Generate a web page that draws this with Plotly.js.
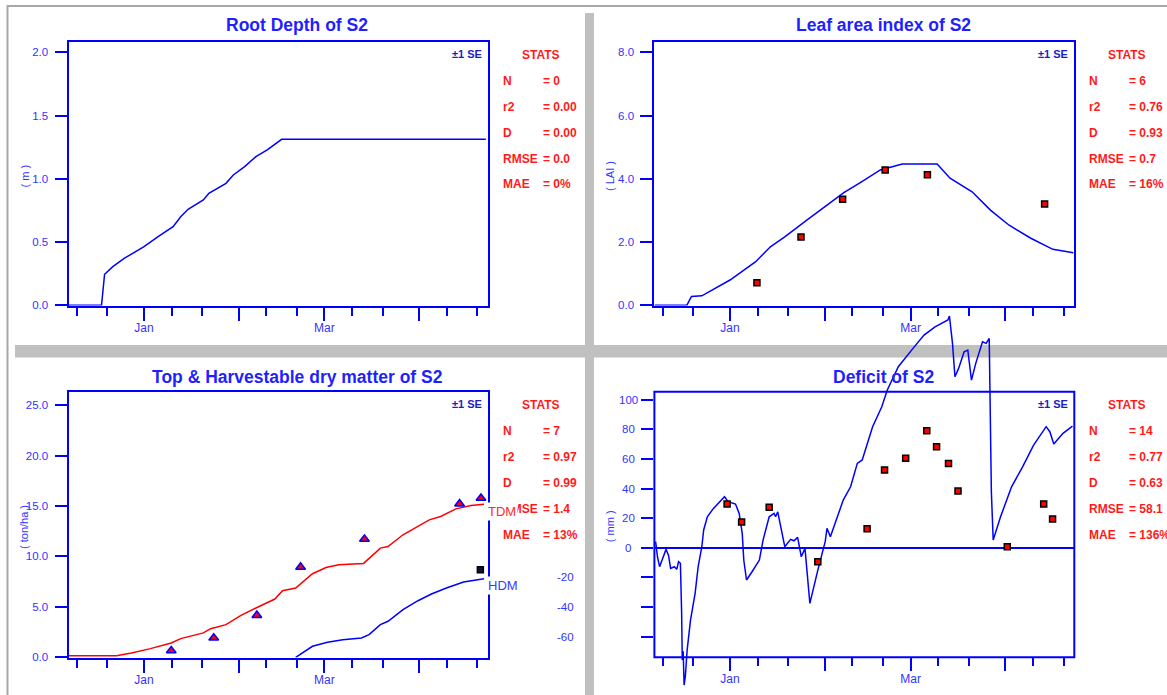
<!DOCTYPE html>
<html><head><meta charset="utf-8">
<script src="https://cdn.plot.ly/plotly-3.0.1.min.js"></script>
<style>html,body{margin:0;padding:0;background:#fff;overflow:hidden}</style>
</head><body><div id="chart" style="width:1167px;height:695px"></div>
<script>
// x values are days counted from 1 January
const monthTickDays = [0, 31, 59, 90];
const monthTickText = ['Jan', '', 'Mar', ''];
const dekadTickDays = [-22, -12, 9, 19, 40, 50, 68, 78, 99, 109];

const rootDay   = [-24.7, -13.9, -12.9, -10.2, -6.5, 0, 4.6, 9.5, 12, 14.4, 19.4, 21.2, 26.8, 29.2, 32.9, 36.6, 40.3, 45, 111.8];
const rootDepth = [0, 0, 0.245, 0.305, 0.37, 0.463, 0.542, 0.621, 0.70, 0.759, 0.832, 0.885, 0.964, 1.03, 1.096, 1.175, 1.228, 1.312, 1.312];

const laiDay = [-24.7, -14.1, -12.6, -9.2, 0, 8.4, 13.2, 18, 25.2, 31.2, 37.2, 43.1, 49.1, 56.3, 67.7, 71.9, 79.1, 85.1, 91.1, 98.3, 105.5, 112.2];
const laiSim = [0, 0, 0.28, 0.30, 0.80, 1.38, 1.85, 2.17, 2.70, 3.12, 3.56, 3.91, 4.28, 4.47, 4.47, 4.02, 3.59, 3.01, 2.54, 2.12, 1.77, 1.66];
const laiObsDay = [8.8, 23.2, 36.8, 50.7, 64.5, 102.8];
const laiObs    = [0.71, 2.16, 3.35, 4.28, 4.13, 3.20];

const tdmDay = [-24.7, -9.0, -4.1, 2.1, 8.9, 12.0, 19.4, 21.8, 26.8, 31.7, 36.6, 42.8, 45.3, 49.6, 55.1, 59.5, 63.7, 71.8, 77.3, 79.8, 84.7, 89.6, 93.3, 97.0, 102.0, 106.9, 111.2];
const tdmSim = [0.15, 0.15, 0.43, 0.86, 1.42, 1.85, 2.42, 2.84, 3.24, 4.16, 4.89, 5.78, 6.60, 6.87, 8.29, 8.91, 9.18, 9.31, 10.83, 10.99, 12.15, 12.97, 13.63, 13.96, 14.72, 15.05, 15.19];
const hdmDay = [49.6, 55.1, 60.0, 65.0, 71.1, 73.6, 77.3, 79.8, 84.7, 89.6, 94.0, 98.9, 104.5, 111.2];
const hdmSim = [0, 1.09, 1.49, 1.75, 1.92, 2.25, 3.24, 3.57, 4.72, 5.61, 6.28, 6.87, 7.46, 7.79];
const tdmObsDay = [8.9, 22.8, 36.9, 51.2, 72.1, 103.2, 110.2];
const tdmObs    = [0.66, 1.92, 4.16, 8.95, 11.72, 15.22, 15.78];
const hdmObsDay = [110.0];
const hdmObs    = [8.68];

const defDay = [-24.3, -23.7, -23.0, -22.1, -20.9, -20.1, -19.4, -18.2, -17.4, -16.8, -16.2, -15.8, -15.6, -15.3, -15.0, -14.6, -14.0, -12.9, -11.4, -10.4, -9.2, -8.6, -7.4, -5.4, -3.0, -1.8, -0.6, 1.8, 3.0, 4.0, 4.5, 5.4, 7.2, 9.6, 10.8, 12.8, 14.4, 14.9, 15.6, 17.9, 19.8, 20.9, 22.1, 23.3, 24.5, 26.1, 28.7, 31.1, 31.7, 32.8, 37.0, 39.4, 41.6, 43.2, 46.6, 49.6, 51.4, 55.0, 59.8, 63.4, 67.0, 71.2, 71.7, 72.7, 73.5, 74.7, 76.5, 77.7, 78.9, 80.3, 82.5, 83.7, 84.7, 85.0, 85.4, 86.0, 88.4, 92.0, 95.6, 99.2, 103.3, 104.5, 105.8, 108.8, 111.9];
const defSim = [4.1, -6.1, -12.8, -8.3, -1.1, -5.0, -13.9, -12.8, -14.6, -9.4, -10.5, -44.3, -75.9, -70, -92.8, -87.1, -69.1, -48.9, -30.8, -12.8, 0.7, 12.0, 20.9, 26.6, 32.2, 34.5, 31.1, 29.5, 23.2, 9.7, -8.3, -21.8, -16.2, -8.3, 5.2, 20.9, 23.2, 20.9, 24.3, 0.7, 5.7, 4.7, 7.0, -6.1, -0.4, -37.6, -15.1, 4.1, 13.1, 7.4, 32.2, 41.2, 57.0, 59.3, 81.8, 95.3, 106.6, 122.3, 134.7, 143.7, 149.3, 153.9, 156.6, 138.1, 115.5, 121.2, 132.4, 133.6, 113.3, 124.6, 139.2, 138.1, 141.4, 106.6, 37.8, 5.2, 20.9, 41.2, 54.7, 69.4, 81.8, 78.4, 70.1, 77.3, 82.2];
const defObsDay = [-0.95, 3.8, 12.8, 28.7, 44.8, 50.5, 57.4, 64.3, 67.5, 71.4, 74.5, 90.6, 102.5, 105.4];
const defObs    = [29.5, 17.4, 27.3, -9.5, 12.8, 52.5, 60.4, 79.1, 68.2, 57.0, 38.3, 0.7, 29.5, 19.4];

const rootTicks = [0, 0.5, 1, 1.5, 2];
const laiTicks  = [0, 2, 4, 6, 8];
const dmTicks   = [0, 5, 10, 15, 20, 25];
const defTicks  = [100, 80, 60, 40, 20, 0, -20, -40, -60];
const defTickText = ['100', '80', '60', '40', '20', '0', '-20', '-40', '-60'];

const titles  = ['Root Depth of S2', 'Leaf area index of S2', 'Top &amp; Harvestable dry matter of S2', 'Deficit of S2'];
const yTitles = ['( m )', '( LAI )', '( ton/ha )', '( mm )'];
const statNames = ['N', 'r2', 'D', 'RMSE', 'MAE'];
const rootStats = ['0', '0.00', '0.00', '0.0', '0%'];
const laiStats  = ['6', '0.76', '0.93', '0.7', '16%'];
const dmStats   = ['7', '0.97', '0.99', '1.4', '13%'];
const defStats  = ['14', '0.77', '0.63', '58.1', '136%'];

const W = 1167, H = 695;
const FONT = 'Arial, "Liberation Sans", sans-serif';
const BLUE = '#0000ff';
const TXTBLUE = '#3333ff';
const px = v => v / W, py = v => 1 - v / H;

function xAx(l, r, extra) {
  return Object.assign({
    domain: [px(l), px(r)], range: [-24.7, 112.5],
    tickmode: 'array', tickvals: monthTickDays, ticktext: monthTickText,
    ticks: 'outside', ticklen: 13, tickwidth: 2, tickcolor: BLUE, ticklabelstandoff: -3,
    minor: {tickmode: 'array', tickvals: dekadTickDays, ticks: 'outside', ticklen: 8, tickwidth: 2, tickcolor: BLUE, showgrid: false},
    showgrid: false, zeroline: false, showline: true, mirror: true, linecolor: BLUE, linewidth: 2,
    tickfont: {family: FONT, size: 12, color: TXTBLUE}, fixedrange: true
  }, extra);
}
function yAx(top, bottom, range, ticks, extra) {
  return Object.assign({
    domain: [py(bottom), py(top)], range: range,
    tickmode: 'array', tickvals: ticks, tickformat: '.1f',
    ticks: 'outside', ticklen: 12, tickwidth: 2, tickcolor: BLUE, ticklabelstandoff: 4,
    showgrid: false, zeroline: false, showline: true, mirror: true, linecolor: BLUE, linewidth: 2,
    tickfont: {family: FONT, size: 11.5, color: TXTBLUE}, fixedrange: true
  }, extra);
}

const lineStyle = c => ({color: c, width: 1.5});
const sq = {symbol: 'square', size: 6, color: 'red', line: {color: 'black', width: 1.5}};
const traces = [
  {x: rootDay, y: rootDepth, xaxis: 'x', yaxis: 'y', mode: 'lines', line: lineStyle(BLUE)},
  {x: laiDay, y: laiSim, xaxis: 'x2', yaxis: 'y2', mode: 'lines', line: lineStyle(BLUE)},
  {x: laiObsDay, y: laiObs, xaxis: 'x2', yaxis: 'y2', mode: 'markers', marker: sq},
  {x: hdmDay, y: hdmSim, xaxis: 'x3', yaxis: 'y3', mode: 'lines', line: lineStyle(BLUE)},
  {x: tdmDay, y: tdmSim, xaxis: 'x3', yaxis: 'y3', mode: 'lines', line: lineStyle('#ff0000')},
  {x: tdmObsDay, y: tdmObs, xaxis: 'x3', yaxis: 'y3', mode: 'markers', marker: {symbol: 'triangle-up', size: 8.5, color: 'red', line: {color: BLUE, width: 1.5}}},
  {x: hdmObsDay, y: hdmObs, xaxis: 'x3', yaxis: 'y3', mode: 'markers', marker: {symbol: 'square', size: 6, color: '#101040', line: {color: 'black', width: 1.5}}},
  {x: defDay, y: defSim, xaxis: 'x4', yaxis: 'y4', mode: 'lines', line: lineStyle(BLUE)},
  {x: defObsDay, y: defObs, xaxis: 'x4', yaxis: 'y4', mode: 'markers', marker: sq}
];

// panel geometry (pixels)
const P = [
  {l: 68.5, r: 488, t: 41.5, b: 305.5, tx: 297, ty: 25, lx: 24.5, ly: 176, stats: rootStats},
  {l: 654.4, r: 1074.3, t: 41.5, b: 305.5, tx: 883, ty: 25, lx: 610, ly: 176, stats: laiStats},
  {l: 68.5, r: 488, t: 391.7, b: 657.5, tx: 297, ty: 377, lx: 23.5, ly: 527.5, stats: dmStats},
  {l: 654.4, r: 1074.3, t: 391.7, b: 657.3, tx: 883, ty: 376.5, lx: 609.5, ly: 526.7, stats: defStats}
];

const ann = [];
function txt(x, y, text, opts) {
  ann.push(Object.assign({xref: 'paper', yref: 'paper', x: px(x), y: py(y), text: text, showarrow: false,
    xanchor: 'center', yanchor: 'middle', font: {family: FONT, size: 12, color: 'red'}}, opts));
}
P.forEach((p, i) => {
  txt(p.tx, p.ty, '<b>' + titles[i] + '</b>', {font: {family: FONT, size: 17.5, color: '#1f1fff'}});
  txt(p.lx, p.ly, yTitles[i], {textangle: -90, font: {family: FONT, size: 11, color: TXTBLUE}});
  txt(p.r - 4, p.t + 12.5, '<b>±1 SE</b>', {xanchor: 'right', font: {family: FONT, size: 11, color: '#1c1cc8'}});
  txt(p.r + 52.7, p.t + 13, '<b>STATS</b>', {font: {family: FONT, size: 12, color: '#ff1a1a'}});
  statNames.forEach((s, k) => {
    const y = p.t + 39 + 26 * k;
    txt(p.r + 12.7, y, '<b>' + s + '</b>', {xanchor: 'left', font: {family: FONT, size: 12, color: '#ff1a1a'}});
    txt(p.r + 52.7, y, '<b>= ' + p.stats[k] + '</b>', {xanchor: 'left', font: {family: FONT, size: 12, color: '#ff1a1a'}});
  });
});
// deficit y tick labels
defTicks.forEach((v, k) => {
  ann.push({xref: 'paper', yref: 'y4', x: px(v >= 0 ? 628 : 565), y: v, text: defTickText[k], showarrow: false,
    xanchor: 'center', yanchor: 'middle', font: {family: FONT, size: 11.5, color: TXTBLUE}});
});
// series labels
ann.push({xref: 'paper', yref: 'y3', x: px(486), y: 14.43, text: 'TDM', showarrow: false, xanchor: 'left', yanchor: 'middle',
  bgcolor: '#ffffff', borderpad: 1, font: {family: FONT, size: 13, color: '#ff2a2a'}});
ann.push({xref: 'paper', yref: 'y3', x: px(486), y: 7.13, text: 'HDM', showarrow: false, xanchor: 'left', yanchor: 'middle',
  bgcolor: '#ffffff', borderpad: 1, font: {family: FONT, size: 13, color: '#3a3aff'}});

function rectPx(x0, y0, x1, y1, color) {
  return {type: 'rect', xref: 'paper', yref: 'paper', x0: px(x0), x1: px(x1), y0: py(y1), y1: py(y0),
    fillcolor: color, line: {width: 0}, layer: 'below'};
}
const shapes = [
  rectPx(7, 5, W, 7, '#a8a8a8'),
  rectPx(6.5, 5, 8.5, H, '#a8a8a8'),
  rectPx(585, 13, 594, H, '#c0c0c0'),
  rectPx(15, 345, W, 357.5, '#c0c0c0'),
  {type: 'rect', xref: 'x4 domain', yref: 'y4', x0: 0, x1: 1, y0: -74.05, y1: 105.4,
    line: {color: BLUE, width: 2}, fillcolor: 'rgba(0,0,0,0)', layer: 'above'}
];

const layout = {
  width: W, height: H, margin: {l: 0, r: 0, t: 0, b: 0},
  paper_bgcolor: '#ffffff', plot_bgcolor: 'rgba(0,0,0,0)', showlegend: false, hovermode: false,
  xaxis: xAx(P[0].l, P[0].r, {anchor: 'y'}),
  yaxis: yAx(P[0].t, P[0].b, [-0.002, 2.085], rootTicks, {anchor: 'x'}),
  xaxis2: xAx(P[1].l, P[1].r, {anchor: 'y2'}),
  yaxis2: yAx(P[1].t, P[1].b, [-0.006, 8.34], laiTicks, {anchor: 'x2'}),
  xaxis3: xAx(P[2].l, P[2].r, {anchor: 'y3'}),
  yaxis3: yAx(P[2].t, P[2].b, [-0.02, 26.34], dmTicks, {anchor: 'x3'}),
  xaxis4: xAx(P[3].l, P[3].r, {anchor: 'free', position: py(P[3].b), showline: false, mirror: false}),
  yaxis4: yAx(300, H, [-99.5, 167.4], defTicks, {anchor: 'x4', showline: false, mirror: false, showticklabels: false,
    zeroline: true, zerolinecolor: BLUE, zerolinewidth: 2}),
  shapes: shapes,
  annotations: ann
};

Plotly.newPlot('chart', traces, layout, {staticPlot: true, displayModeBar: false});
</script>
</body></html>
